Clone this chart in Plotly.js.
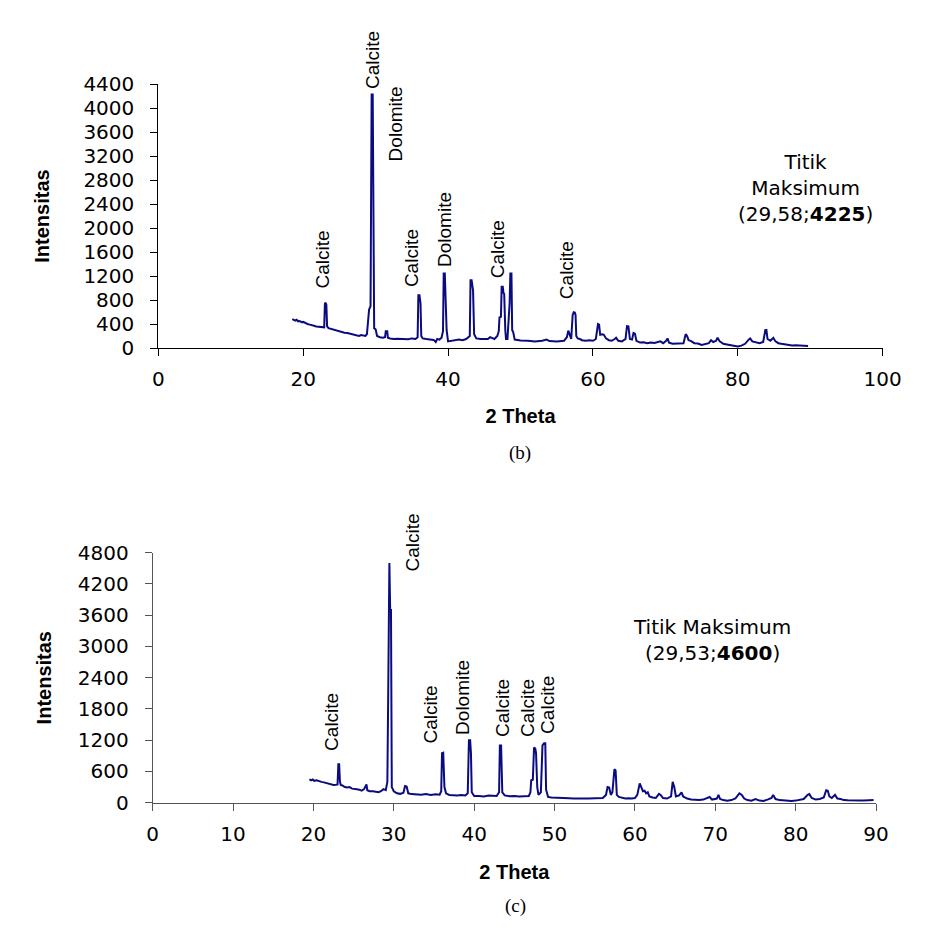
<!DOCTYPE html>
<html>
<head>
<meta charset="utf-8">
<script src="https://cdn.plot.ly/plotly-3.0.1.min.js"></script>
<style>html,body{margin:0;padding:0;background:#fff}#chart{width:930px;height:948px}</style>
</head>
<body>
<div id="chart"></div>
<script>
// ---------- Data: panel (b) ----------
const thetaB = [18.5,18.7,18.9,19.1,19.3,19.5,19.8,20.0,20.3,20.6,20.9,21.2,21.5,21.8,22.1,22.4,22.7,22.9,23.0,23.1,23.2,23.3,23.5,23.8,24.1,24.5,24.9,25.3,25.7,26.1,26.5,26.9,27.3,27.7,28.0,28.3,28.6,28.8,29.0,29.1,29.3,29.45,29.6,29.7,29.8,30.0,30.2,30.6,31.0,31.3,31.4,31.6,31.7,32.0,32.5,33.0,33.5,34.0,34.5,35.0,35.5,35.8,35.9,36.05,36.1,36.2,36.3,36.5,37.0,37.5,38.0,38.3,38.5,38.8,39.1,39.3,39.4,39.55,39.6,39.7,39.8,40.0,40.5,41.0,41.5,42.0,42.5,43.0,43.1,43.25,43.35,43.45,43.6,43.9,44.5,45.0,45.5,45.8,46.0,46.4,46.8,47.0,47.1,47.3,47.4,47.55,47.65,47.75,47.9,48.0,48.2,48.4,48.5,48.6,48.75,48.85,49.0,49.2,49.5,50.0,51.0,52.0,53.0,53.6,54.0,55.0,56.0,56.4,56.6,56.8,57.0,57.2,57.35,57.5,57.6,57.7,57.9,58.2,58.5,59.0,59.5,60.0,60.4,60.7,60.85,61.0,61.3,61.5,61.8,62.2,62.6,63.0,63.2,63.5,64.0,64.5,64.7,64.9,65.1,65.4,65.6,65.8,66.0,66.5,67.0,67.5,68.0,68.5,69.0,69.3,69.7,70.1,70.3,70.5,71.0,71.5,72.0,72.5,72.8,73.0,73.2,73.5,74.0,74.5,75.0,75.5,76.0,76.3,76.6,77.0,77.2,77.5,78.0,78.5,79.0,79.5,80.0,80.5,81.0,81.5,81.7,82.0,82.5,83.0,83.5,83.8,83.95,84.1,84.5,84.9,85.2,85.6,86.0,86.5,87.0,87.5,88.0,88.5,89.0,89.5,89.7];
const intensityB = [480,470,455,470,445,450,430,435,410,400,390,385,370,360,355,345,340,345,740,755,720,360,330,320,300,290,275,270,255,250,240,220,210,200,215,205,200,230,600,640,700,4225,4225,700,330,310,200,180,170,180,280,280,170,160,150,155,150,150,145,160,150,180,880,880,750,740,200,160,150,140,135,100,150,140,170,280,1240,1240,1050,1040,300,110,120,130,140,130,150,200,1130,1130,970,960,230,160,150,145,150,180,170,150,200,280,510,520,1020,1020,920,900,300,150,150,500,750,1240,1240,300,260,140,130,125,120,110,120,140,115,110,120,180,290,200,150,550,595,590,550,200,160,150,130,120,130,120,150,400,390,220,230,220,160,130,120,150,170,120,110,150,365,360,150,140,250,240,120,90,95,80,90,85,100,110,80,120,160,90,70,75,70,80,230,200,130,120,80,75,50,60,80,130,100,120,170,110,70,60,50,30,25,40,70,140,160,110,90,80,100,300,300,150,120,170,110,80,70,60,50,40,45,40,35,40,35];
const peakTextB = ["Calcite","Calcite","Dolomite","Calcite","Dolomite","Calcite","Calcite"];
const peakThetaB = [22.7,29.5,32.7,34.9,39.6,46.8,56.3];
const peakLabelYB = [1470,4800,3730,1500,1970,1650,1300];
const maxTextB = "Titik<br>Maksimum<br>(29,58;<b>4225</b>)";
const xTicksB = [0,20,40,60,80,100];
const yTicksB = [0,400,800,1200,1600,2000,2400,2800,3200,3600,4000,4400];

// ---------- Data: panel (c) ----------
const thetaC = [19.5,19.7,19.9,20.1,20.4,20.7,21.0,21.3,21.6,21.9,22.2,22.5,22.8,23.0,23.1,23.2,23.3,23.4,23.6,23.9,24.2,24.5,24.8,25.1,25.4,25.7,26.0,26.3,26.6,26.7,27.0,27.4,27.8,28.1,28.4,28.7,29.0,29.2,29.3,29.45,29.55,29.65,29.75,30.0,30.4,30.8,31.2,31.4,31.6,31.8,32.2,32.8,33.4,34.0,34.6,35.2,35.7,35.9,36.0,36.15,36.3,36.5,36.9,37.4,37.9,38.4,38.9,39.2,39.35,39.5,39.6,39.7,40.0,40.6,41.2,41.8,42.3,42.8,43.1,43.2,43.35,43.5,43.8,44.4,45.0,45.6,46.2,46.8,47.0,47.1,47.3,47.45,47.6,47.7,47.85,48.0,48.3,48.5,48.7,48.85,48.95,49.2,49.6,50.0,50.6,51.2,51.8,52.4,53.0,53.6,54.2,54.8,55.4,56.0,56.4,56.6,56.8,57.0,57.2,57.45,57.6,57.75,58.0,58.4,58.8,59.2,59.6,60.0,60.3,60.6,60.8,61.0,61.2,61.4,61.6,61.8,62.2,62.6,63.0,63.2,63.5,64.0,64.5,64.7,64.9,65.1,65.5,65.8,66.0,66.5,67.0,67.5,68.0,68.5,69.0,69.3,69.6,70.2,70.4,70.6,71.0,71.5,72.0,72.5,73.0,73.3,73.6,74.0,74.5,75.0,75.5,76.0,76.5,77.0,77.2,77.5,78.0,78.5,79.0,79.5,80.0,80.5,81.0,81.5,81.7,82.0,82.5,83.0,83.5,83.8,84.0,84.2,84.5,84.9,85.2,85.6,86.0,86.5,87.0,87.5,88.0,88.5,89.0,89.7];
const intensityC = [450,430,445,420,430,410,400,390,380,360,350,340,345,350,740,740,400,340,330,300,290,300,270,270,260,250,230,260,350,240,220,220,210,200,220,260,240,400,2000,4600,3700,3700,300,220,180,170,190,320,310,180,165,160,155,165,150,160,155,220,950,960,300,180,150,145,140,150,140,180,1200,1200,950,200,130,130,120,140,130,130,200,1100,1100,200,140,125,130,120,125,130,200,430,440,1060,1040,950,300,150,200,1100,1140,1140,250,110,100,95,90,80,85,80,75,80,80,85,80,90,150,300,290,150,200,640,620,150,110,100,80,85,80,90,150,370,300,220,230,180,200,120,100,90,170,150,90,80,120,400,300,120,140,200,120,80,60,55,50,60,90,110,60,80,150,70,50,40,50,80,180,150,80,50,40,70,40,35,60,90,150,70,50,45,30,35,40,50,70,150,165,90,60,70,100,240,230,120,90,150,80,70,50,45,40,45,40,40,45,50];
const peakTextC = ["Calcite","Calcite","Calcite","Dolomite","Calcite","Calcite","Calcite"];
const peakThetaC = [22.3,32.3,34.6,38.6,43.6,46.7,49.2];
const peakLabelYC = [1550,5000,1690,2030,1820,1820,1880];
const maxTextC = "Titik Maksimum<br>(29,53;<b>4600</b>)";
const xTicksC = [0,10,20,30,40,50,60,70,80,90];
const yTicksC = [0,600,1200,1800,2400,3000,3600,4200,4800];

// ---------- Figure ----------
const W = 930, H = 948;
const yMaxB = 4400, yMaxC = 4800;
const lineColor = "#0b0b80";
const tickFont = {family: "DejaVu Sans, Liberation Sans, Arial", size: 20, color: "#000"};
const titleFont = {family: "Liberation Sans, Arial", size: 20, color: "#000", weight: "bold"};
const peakFont = {family: "Liberation Sans, Arial", size: 19, color: "#000"};
const noteFont = {family: "DejaVu Sans, Liberation Sans, Arial", size: 20, color: "#000"};
const capFont = {family: "Liberation Serif, Times New Roman", size: 19, color: "#000"};

const traces = [
  {x: thetaB, y: intensityB, type: "scatter", mode: "lines", xaxis: "x", yaxis: "y",
   line: {color: lineColor, width: 2}, hoverinfo: "x+y", showlegend: false},
  {x: thetaC, y: intensityC, type: "scatter", mode: "lines", xaxis: "x2", yaxis: "y2",
   line: {color: lineColor, width: 2}, hoverinfo: "x+y", showlegend: false}
];

function axisCommon(color) {
  return {showgrid: false, zeroline: false, showline: true, linecolor: color, linewidth: 1,
          ticks: "outside", tickcolor: color, tickwidth: 1, ticklen: 7, tickfont: tickFont,
          automargin: false, fixedrange: true};
}

const layout = {
  width: W, height: H,
  margin: {l: 0, r: 0, t: 0, b: 0},
  paper_bgcolor: "#fff", plot_bgcolor: "#fff",
  showlegend: false,
  xaxis: Object.assign(axisCommon("#000"), {
    domain: [158.3 / W, 882.7 / W], anchor: "y", range: [0, 100],
    tickvals: xTicksB, ticktext: xTicksB.map(String), ticklabelstandoff: 6,
    title: {text: "2 Theta", font: titleFont, standoff: 18}
  }),
  yaxis: Object.assign(axisCommon("#000"), {
    domain: [(H - 348) / H, (H - 84) / H], anchor: "x", range: [0, yMaxB],
    tickvals: yTicksB, ticktext: yTicksB.map(String), ticklabelstandoff: 12,
    title: {text: "Intensitas", font: titleFont, standoff: 28}
  }),
  xaxis2: Object.assign(axisCommon("#555"), {
    domain: [152.7 / W, 876 / W], anchor: "y2", range: [0, 90],
    tickvals: xTicksC, ticktext: xTicksC.map(String), ticklabelstandoff: 6,
    title: {text: "2 Theta", font: titleFont, standoff: 20}
  }),
  yaxis2: Object.assign(axisCommon("#555"), {
    domain: [(H - 802.7) / H, (H - 552.7) / H], anchor: "x2", range: [0, yMaxC],
    tickvals: yTicksC, ticktext: yTicksC.map(String), ticklabelstandoff: 12,
    title: {text: "Intensitas", font: titleFont, standoff: 20}
  }),
  annotations: []
};

// peak labels: x in data units, y given in intensity units and mapped into the axis domain
peakTextB.forEach((t, i) => layout.annotations.push({
  text: t, x: peakThetaB[i], y: peakLabelYB[i] / yMaxB, xref: "x", yref: "y domain", textangle: -90,
  showarrow: false, xanchor: "center", yanchor: "middle", font: peakFont
}));
peakTextC.forEach((t, i) => layout.annotations.push({
  text: t, x: peakThetaC[i], y: peakLabelYC[i] / yMaxC, xref: "x2", yref: "y2 domain", textangle: -90,
  showarrow: false, xanchor: "center", yanchor: "middle", font: peakFont
}));
layout.annotations.push(
  {text: maxTextB, xref: "paper", yref: "paper", x: 805 / W, y: (H - 188) / H,
   xanchor: "center", yanchor: "middle", showarrow: false, align: "center", font: noteFont},
  {text: maxTextC, xref: "paper", yref: "paper", x: 712 / W, y: (H - 640) / H,
   xanchor: "center", yanchor: "middle", showarrow: false, align: "center", font: noteFont},
  {text: "(b)", xref: "paper", yref: "paper", x: 520 / W, y: (H - 453) / H,
   xanchor: "center", yanchor: "middle", showarrow: false, font: capFont},
  {text: "(c)", xref: "paper", yref: "paper", x: 515 / W, y: (H - 906) / H,
   xanchor: "center", yanchor: "middle", showarrow: false, font: capFont}
);

Plotly.newPlot("chart", traces, layout, {staticPlot: true, displayModeBar: false});
</script>
</body>
</html>
